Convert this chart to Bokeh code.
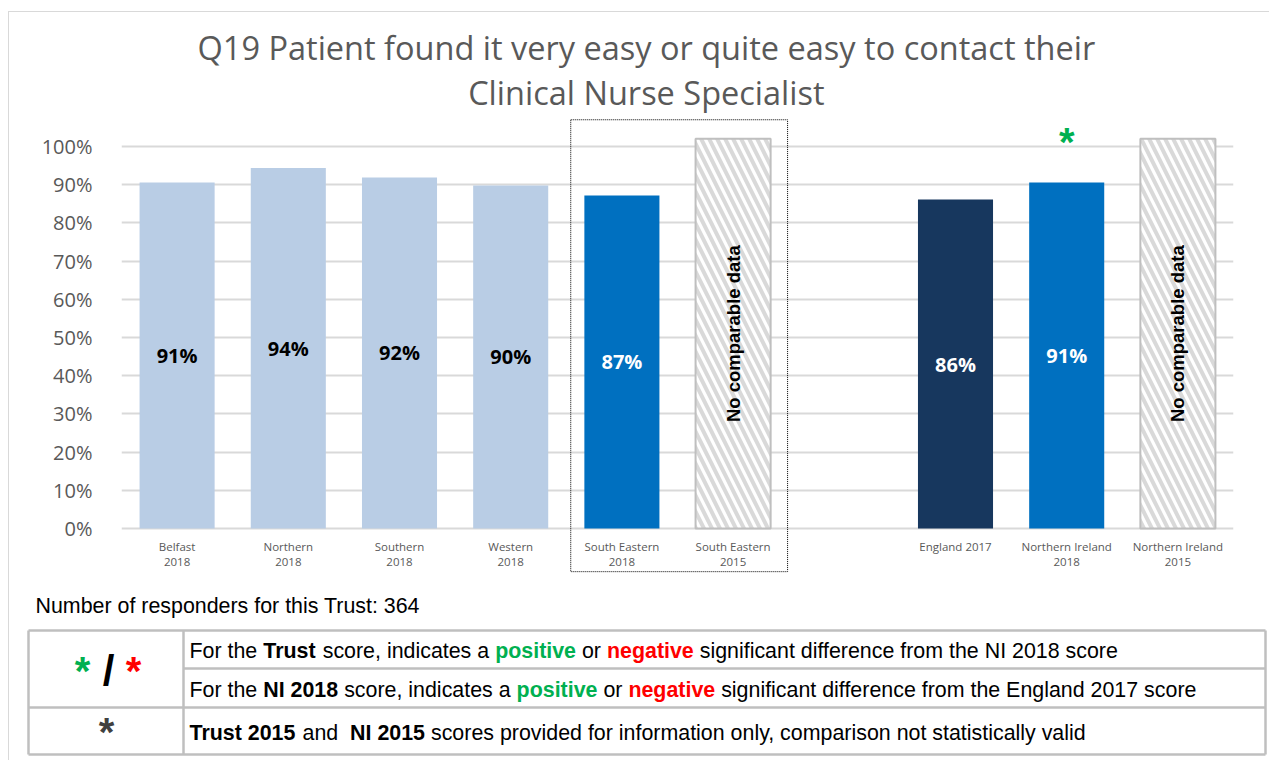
import math
from bokeh.plotting import figure
from bokeh.models import Range1d, FixedTicker, ColumnDataSource
from bokeh.embed import file_html
from bokeh.resources import INLINE
from bokeh.core.properties import value

# ---------------- data ----------------
title_lines = ["Q19 Patient found it very easy or quite easy to contact their",
               "Clinical Nurse Specialist"]
cat_line1 = ["Belfast", "Northern", "Southern", "Western", "South Eastern",
             "South Eastern", "", "England 2017", "Northern Ireland", "Northern Ireland"]
cat_line2 = ["2018", "2018", "2018", "2018", "2018", "2015", "", "", "2018", "2015"]

bar_pos = [0, 1, 2, 3, 4, 7, 8]
bar_values = [90.6, 94.4, 91.9, 89.8, 87.2, 86.1, 90.6]
bar_labels = ["91%", "94%", "92%", "90%", "87%", "86%", "91%"]
bar_colors = ["#B9CDE5", "#B9CDE5", "#B9CDE5", "#B9CDE5", "#0070C0", "#17375E", "#0070C0"]
label_colors = ["black", "black", "black", "black", "white", "white", "white"]

nodata_pos = [5, 9]
nodata_top = [102.0, 102.0]
nodata_text = ["No comparable data", "No comparable data"]

sig_pos = [8]
sig_base = [90.6]

yticks = [0, 10, 20, 30, 40, 50, 60, 70, 80, 90, 100]
ytick_labels = ["0%", "10%", "20%", "30%", "40%", "50%", "60%", "70%", "80%", "90%", "100%"]

footer_text = "Number of responders for this Trust: 364"

GREEN = "#00B050"
RED = "#FF0000"
BLACK = "#000000"
row1 = [("For the ", False, BLACK), ("Trust", True, BLACK), (" score, indicates a ", False, BLACK),
        ("positive", True, GREEN), (" or ", False, BLACK), ("negative", True, RED),
        (" significant difference from the NI 2018 score", False, BLACK)]
row2 = [("For the ", False, BLACK), ("NI 2018", True, BLACK), (" score, indicates a ", False, BLACK),
        ("positive", True, GREEN), (" or ", False, BLACK), ("negative", True, RED),
        (" significant difference from the England 2017 score", False, BLACK)]
row3 = [("Trust 2015", True, BLACK), (" and  ", False, BLACK), ("NI 2015", True, BLACK),
        (" scores provided for information only, comparison not statistically valid", False, BLACK)]

BORDER = "1px solid #D9D9D9"

# ---------------- chart figure ----------------
W1, H1 = 1261, 573
FR_L, FR_R = 112, 1224          # frame in figure px
Y0_PX, Y100_PX = 516, 134       # figure px of 0% and 100%
ppu = (Y0_PX - Y100_PX) / 100.0
y_top = Y0_PX / ppu
y_bot = -(H1 - Y0_PX) / ppu

p1 = figure(width=W1, height=H1, x_range=Range1d(-0.5, 9.5), y_range=Range1d(y_bot, y_top),
            output_backend="svg", toolbar_location=None, x_axis_type=None, title=None,
            min_border_left=FR_L, min_border_right=W1 - FR_R, min_border_top=0, min_border_bottom=0,
            outline_line_color=None,
            styles={"margin-left": "8px", "margin-top": "11px",
                    "border-left": BORDER, "border-top": BORDER})

yax = p1.yaxis[0]
yax.ticker = FixedTicker(ticks=yticks)
yax.major_label_overrides = {t: l for t, l in zip(yticks, ytick_labels)}
yax.axis_line_color = None
yax.major_tick_line_color = None
yax.minor_tick_line_color = None
yax.major_label_standoff = 23
yax.major_label_text_font = "Open Sans"
yax.major_label_text_font_size = "20px"
yax.major_label_text_color = "#595959"
p1.ygrid.ticker = FixedTicker(ticks=yticks)
p1.ygrid.grid_line_color = "#D9D9D9"
p1.ygrid.grid_line_width = 2

BAR_W = 0.675
bars = ColumnDataSource(dict(x=bar_pos, top=bar_values, color=bar_colors,
                             label=bar_labels, lcolor=label_colors,
                             mid=[v / 2.0 for v in bar_values]))
p1.vbar(x="x", top="top", bottom=0, width=BAR_W, fill_color="color", line_color=None, source=bars)
p1.text(x="x", y="mid", text="label", text_color="lcolor", text_align="center",
        text_baseline="middle", text_font=value("Open Sans"), text_font_style="bold",
        text_font_size="20px", source=bars)

nd = ColumnDataSource(dict(x=nodata_pos, top=nodata_top, text=nodata_text,
                           mid=[t / 2.0 for t in nodata_top]))
p1.vbar(x="x", top="top", bottom=0, width=BAR_W, fill_color="white", line_color="#BFBFBF",
        line_width=2, hatch_pattern="\\", hatch_color="#D9D9D9", hatch_weight=4,
        hatch_scale=16, source=nd)
p1.text(x="x", y="mid", text="text", angle=math.pi / 2, text_align="center",
        text_baseline="middle", text_font=value("Liberation Sans"), text_font_style="bold",
        text_font_size="18.5px", text_color="black", source=nd)

# significance asterisk (placed above the NI 2018 bar)
p1.text(x=sig_pos, y=[b + 10.5 for b in sig_base], text=["*"], text_align="center",
        text_baseline="middle", text_font=value("Liberation Sans"), text_font_style="bold",
        text_font_size="40px", text_color=GREEN)

# category labels
xs = list(range(len(cat_line1)))
p1.text(x=xs, y=[-4.7] * len(xs), text=cat_line1, text_align="center", text_baseline="middle",
        text_font=value("Open Sans"), text_font_size="11.5px", text_color="#595959")
p1.text(x=xs, y=[-8.9] * len(xs), text=cat_line2, text_align="center", text_baseline="middle",
        text_font=value("Open Sans"), text_font_size="11.5px", text_color="#595959")

# dotted box round the Trust's bars
p1.quad(left=[4 - 0.46], right=[5 + 0.49], top=[107.0], bottom=[-11.3], fill_color=None,
        line_color="black", line_width=1, line_dash="1 1")

# title
p1.text(x=[4.22, 4.22], y=[126.0, 114.1], text=title_lines, text_align="center",
        text_baseline="middle", text_font=value("Open Sans"), text_font_size="32.5px",
        text_color="#595959")

# ---------------- footer / key figure ----------------
W2, H2 = 1261, 176
p2 = figure(width=W2, height=H2, x_range=Range1d(0, W2), y_range=Range1d(H2, 0),
            output_backend="svg", toolbar_location=None, x_axis_type=None, y_axis_type=None,
            min_border=0, outline_line_color=None, title=None,
            styles={"margin-left": "8px", "border-left": BORDER})

FS = 21.4

p2.text(x=[26], y=[21], text=[footer_text], text_baseline="middle", text_align="left",
        text_font=value("Liberation Sans"), text_font_size=f"{FS}px", text_color="black")

TL, TC, TR = 19, 174, 1256
TY = [46, 84, 123, 170]
p2.segment(x0=[TL, TC, TL, TL, TL, TC, TR], y0=[TY[0], TY[1], TY[2], TY[3], TY[0], TY[0], TY[0]],
           x1=[TR, TR, TR, TR, TL, TC, TR], y1=[TY[0], TY[1], TY[2], TY[3], TY[3], TY[3], TY[3]],
           line_color="#BFBFBF", line_width=2.5)

AR = dict(zip("ABCDEFGHIJKLMNOPQRSTUVWXYZ",
              [667, 667, 722, 722, 667, 611, 778, 722, 278, 500, 667, 556, 833, 722, 778, 667, 778,
               722, 667, 611, 722, 667, 944, 667, 667, 611]))
AR.update(zip("abcdefghijklmnopqrstuvwxyz",
              [556, 556, 500, 556, 556, 278, 556, 556, 222, 222, 500, 222, 833, 556, 556, 556, 556,
               333, 500, 278, 556, 500, 722, 500, 500, 500]))
AR.update({" ": 278, ",": 278, ".": 278, ":": 278})
AR.update({d: 556 for d in "0123456789"})
AB = dict(zip("ABCDEFGHIJKLMNOPQRSTUVWXYZ",
              [722, 722, 722, 722, 667, 611, 778, 722, 278, 556, 722, 611, 833, 722, 778, 667, 778,
               722, 667, 611, 722, 667, 944, 667, 667, 611]))
AB.update(zip("abcdefghijklmnopqrstuvwxyz",
              [556, 611, 556, 611, 556, 333, 611, 611, 278, 278, 556, 278, 889, 611, 611, 611, 611,
               389, 556, 333, 611, 556, 778, 556, 556, 500]))
AB.update({" ": 278, ",": 278, ".": 278, ":": 278})
AB.update({d: 556 for d in "0123456789"})


def wid(s, bold):
    t = AB if bold else AR
    return sum(t.get(c, 556) for c in s) * FS / 1000.0


rx, ry, rt, rs, rc = [], [], [], [], []
for segs, yy in ((row1, 66), (row2, 105), (row3, 148)):
    x = 180.0
    for s, b, c in segs:
        lead = len(s) - len(s.lstrip(" "))
        rx.append(x + wid(" " * lead, b))
        ry.append(yy)
        rt.append(s.strip(" "))
        rs.append("bold" if b else "normal")
        rc.append(c)
        x += wid(s, b)
rows = ColumnDataSource(dict(x=rx, y=ry, text=rt, style=rs, color=rc))
p2.text(x="x", y="y", text="text", text_font_style="style", text_color="color",
        text_baseline="middle", text_align="left", text_font=value("Liberation Sans"),
        text_font_size=f"{FS}px", source=rows)

# key symbols
p2.text(x=[73, 124], y=[86, 86], text=["*", "*"], text_color=[GREEN, RED], text_align="center",
        text_baseline="middle", text_font=value("Liberation Sans"), text_font_style="bold",
        text_font_size="40px")
p2.text(x=[99], y=[86], text=["/"], text_color=["black"], text_align="center",
        text_baseline="middle", text_font=value("Liberation Sans"), text_font_style="bold",
        text_font_size="42px")
p2.text(x=[97], y=[147], text=["*"], text_color=["#404040"], text_align="center",
        text_baseline="middle", text_font=value("Liberation Sans"), text_font_style="bold",
        text_font_size="40px")

open("out.html", "w").write(file_html([p1, p2], INLINE))
